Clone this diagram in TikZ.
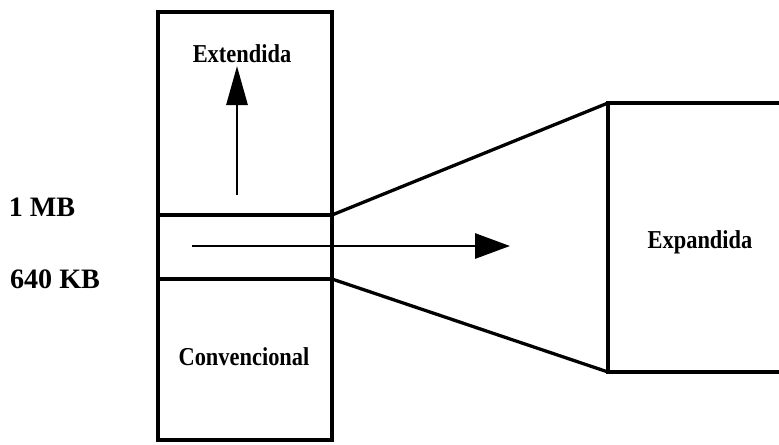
\documentclass[tikz,border=0pt]{standalone}
\usepackage{fontspec}
\setmainfont{Liberation Serif}[FakeStretch=0.87]
\newfontfamily\sizefont{Liberation Serif}
\usetikzlibrary{arrows.meta,positioning}
\tikzset{
  memline/.style={line width=2.8pt,line join=miter},
  lbl/.style={font=\fontsize{22}{26}\selectfont\bfseries,inner sep=0pt},
  sizelbl/.style={font=\sizefont\fontsize{24}{28}\selectfont\bfseries,inner sep=0pt},
  arrv/.style={-{Triangle[length=1.17cm,width=0.63cm]},line width=2.5pt},
  arrh/.style={-{Triangle[length=1.05cm,width=0.75cm]},line width=2.5pt},
}
\begin{document}
\begin{tikzpicture}[x=0.03cm,y=-0.03cm]
        \useasboundingbox (0,0) rectangle (779,444);
        % memory column
        \draw[memline] (158,12) rectangle (332,440);
        \draw[memline] (158,215) -- (332,215);
        \draw[memline] (158,279) -- (332,279);
        % expanded block
        \draw[memline] (332,215) -- (608,103);
        \draw[memline] (332,279) -- (608,372);
        \draw[memline] (785,103) -- (608,103) -- (608,372) -- (785,372);
        % labels
        \node[lbl] (ext) at (242,54) {Extendida};
        \node[lbl] (conv) at (244,357) {Convencional};
        \node[lbl] (expd) at (700,242) {Expandida};
        \node[sizelbl] (mb1) at (42,207) {1 MB};
        \node[sizelbl] (kb640) at (55,279) {640 KB};
        % arrows
        \coordinate (upfrom) at (237,195);
        \coordinate (upto) at (237,66);
        \coordinate (rtfrom) at (192,246);
        \coordinate (rtto) at (510,246);
        \draw[arrv] (upfrom) -- (upto);
        \draw[arrh] (rtfrom) -- (rtto);
      \end{tikzpicture}
\end{document}
